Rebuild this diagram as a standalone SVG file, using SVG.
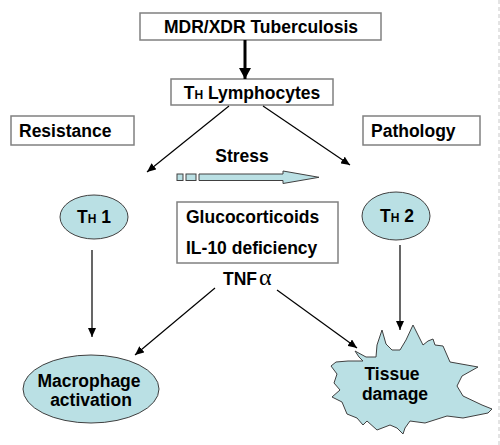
<svg xmlns="http://www.w3.org/2000/svg" width="500" height="445" viewBox="0 0 500 445">
<style>
.t{font-family:"Liberation Sans",Arial,sans-serif;font-weight:bold;font-size:17.5px;fill:#000}
.box{fill:#fff;stroke:#808080;stroke-width:1.5}
.cell{fill:#bae0e4;stroke:#404040;stroke-width:1}
.ln{stroke:#000;stroke-width:1.2;fill:none;marker-end:url(#ah)}
.sm{font-size:12px}
</style>
<defs>
<marker id="ah" markerUnits="userSpaceOnUse" markerWidth="10" markerHeight="8" refX="9" refY="4" orient="auto">
<path d="M0,0 L9,4 L0,8 Z" fill="#000"/>
</marker>
<marker id="ahb" markerUnits="userSpaceOnUse" markerWidth="12" markerHeight="12" refX="11" refY="6" orient="auto">
<path d="M0,0 L11,6 L0,12 Z" fill="#000"/>
</marker>
</defs>
<rect width="500" height="445" fill="#fff"/>
<line x1="499" y1="0" x2="499" y2="445" stroke="#c8c8c8" stroke-width="1" stroke-dasharray="4 3"/>

<g id="tb">
<rect class="box" x="140" y="13" width="241" height="27"/>
<text class="t" x="261" y="33" text-anchor="middle">MDR/XDR Tuberculosis</text>
</g>
<g id="lymph">
<rect class="box" x="171" y="79" width="162" height="26"/>
<text class="t" x="252" y="99" text-anchor="middle">T<tspan class="sm">H</tspan> Lymphocytes</text>
</g>
<g id="resistance">
<rect class="box" x="11" y="116" width="123" height="29"/>
<text class="t" x="19" y="137">Resistance</text>
</g>
<g id="pathology">
<rect class="box" x="363" y="116" width="117" height="29"/>
<text class="t" x="371" y="137">Pathology</text>
</g>
<g id="stress">
<text class="t" x="242" y="162" text-anchor="middle">Stress</text>
<rect x="177" y="174" width="6" height="6.5" fill="#bae0e4" stroke="#404040" stroke-width="1"/>
<rect x="186" y="174" width="10" height="6.5" fill="#bae0e4" stroke="#404040" stroke-width="1"/>
<path d="M199,174 L283,174 L283,171 L319,177.3 L283,183.5 L283,180.5 L199,180.5 Z" fill="#bae0e4" stroke="#404040" stroke-width="1"/>
</g>
<g id="th1">
<ellipse class="cell" cx="94" cy="217" rx="34" ry="22"/>
<text class="t" x="94" y="223" text-anchor="middle">T<tspan class="sm">H</tspan> 1</text>
</g>
<g id="th2">
<ellipse class="cell" cx="396" cy="216" rx="34" ry="24"/>
<text class="t" x="397" y="222" text-anchor="middle">T<tspan class="sm">H</tspan> 2</text>
</g>
<g id="factors">
<rect class="box" x="177" y="202" width="161" height="61"/>
<text class="t" x="186" y="223">Glucocorticoids</text>
<text class="t" x="186" y="254">IL-10 deficiency</text>
</g>
<g id="tnf">
<text class="t" x="223" y="285">TNF<tspan font-family="'Liberation Serif','Times New Roman',serif" font-weight="normal" font-size="24px" dx="2">α</tspan></text>
</g>
<g id="macrophage">
<ellipse class="cell" cx="91" cy="389" rx="68" ry="34"/>
<text class="t" x="89" y="387" text-anchor="middle">Macrophage</text>
<text class="t" x="91" y="406" text-anchor="middle">activation</text>
</g>
<g id="tissue">
<path class="cell" stroke-linejoin="round" d="M366,357 L355,351 L359,357 L363,361 L348,361 L336,362 L331,366 L337,374 L334,383 L340,390 L332,397 L342,402 L347,414 L357,418 L363,425 L367,421 L377,430 L390,425 L397,428 L403,434 L405,428 L410,421 L425,423 L447,416 L463,418 L488,413 L492,409 L482,405 L463,396 L457,386 L462,376 L478,367 L450,362 L443,346 L435,345 L433,339 L428,341 L423,345 L413,325 L406,340 L400,350 L392,350 L386,344 L382,330 L377,345 L376,357 Z"/>
<text class="t" x="392" y="380" text-anchor="middle">Tissue</text>
<text class="t" x="395" y="400" text-anchor="middle">damage</text>
</g>
<g id="connectors">
<line x1="245" y1="40" x2="245" y2="79" stroke="#000" stroke-width="3" marker-end="url(#ahb)"/>
<line class="ln" x1="229" y1="106" x2="147" y2="172"/>
<line class="ln" x1="263" y1="106" x2="350" y2="165"/>
<line class="ln" x1="92" y1="250" x2="92" y2="337"/>
<line class="ln" x1="400" y1="245" x2="400" y2="330"/>
<line class="ln" x1="215" y1="288" x2="135" y2="355"/>
<line class="ln" x1="277" y1="290" x2="357" y2="348"/>
</g>
</svg>
